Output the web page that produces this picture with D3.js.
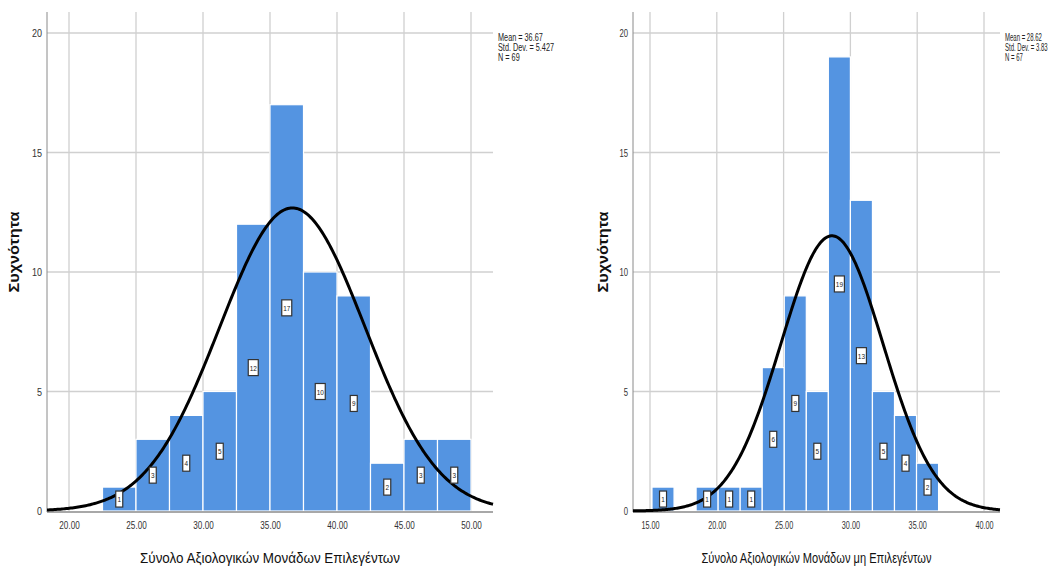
<!DOCTYPE html>
<html><head><meta charset="utf-8">
<script src="https://cdn.jsdelivr.net/npm/d3@7"></script>
<style>
body{margin:0;background:#fff;}
svg{display:block;}
text{font-family:"Liberation Sans",Arial,sans-serif;}
</style></head>
<body>
<svg id="c" width="1059" height="570"></svg>
<script>
// ---- data ----
const yTicks = [0, 5, 10, 15, 20];
const yTitle = "Συχνότητα";

const leftCounts = [1, 3, 4, 5, 12, 17, 10, 9, 2, 3, 3];
const leftBinStart = 22.5;
const leftBinWidth = 2.5;
const leftXTicks = [20, 25, 30, 35, 40, 45, 50];
const leftStats = {mean: 36.67, sd: 5.427, n: 69};
const leftTitle = "Σύνολο Αξιολογικών Μονάδων Επιλεγέντων";

const rightCounts = [1, 0, 1, 1, 1, 6, 9, 5, 19, 13, 5, 4, 2];
const rightBinStart = 15.15;
const rightBinWidth = 1.65;
const rightXTicks = [15, 20, 25, 30, 35, 40];
const rightStats = {mean: 28.62, sd: 3.83, n: 67};
const rightTitle = "Σύνολο Αξιολογικών Μονάδων μη Επιλεγέντων";

const svg = d3.select("#c");
const BLUE = "#5494e1";
const GRID = "#d0d0d0";

// horizontally condense text to mimic a narrow font
function condense(sel, f) {
  sel.each(function () {
    const L = this.getComputedTextLength();
    if (L > 0) {
      this.setAttribute("textLength", (L * f).toFixed(2));
      this.setAttribute("lengthAdjust", "spacingAndGlyphs");
    }
  });
}

function drawChart(cfg) {
  const g = svg.append("g");
  const x = d3.scaleLinear().domain(cfg.xDomain).range([cfg.left, cfg.right]);
  const y = d3.scaleLinear().domain([0, 20]).range([511, 33]);
  const top = 12;

  // gridlines
  g.selectAll(".hg").data(yTicks.filter(d => d > 0)).join("line")
    .attr("x1", cfg.left).attr("x2", cfg.right)
    .attr("y1", d => y(d)).attr("y2", d => y(d))
    .attr("stroke", GRID).attr("stroke-width", 1.3);
  g.selectAll(".vg").data(cfg.xTicks).join("line")
    .attr("x1", d => x(d)).attr("x2", d => x(d))
    .attr("y1", top).attr("y2", 511)
    .attr("stroke", GRID).attr("stroke-width", 1.3);

  // bars
  const bins = cfg.counts.map((c, i) => ({c, x0: cfg.binStart + i * cfg.binWidth, x1: cfg.binStart + (i + 1) * cfg.binWidth}))
    .filter(b => b.c > 0);
  g.selectAll(".bar").data(bins).join("rect")
    .attr("x", d => x(d.x0)).attr("width", d => x(d.x1) - x(d.x0))
    .attr("y", d => y(d.c)).attr("height", d => y(0) - y(d.c))
    .attr("fill", BLUE).attr("stroke", "#fff").attr("stroke-width", 1.2);

  // axes lines
  g.append("line").attr("x1", cfg.left).attr("x2", cfg.left).attr("y1", top).attr("y2", 512)
    .attr("stroke", "#8a8a8a").attr("stroke-width", 1);
  g.append("line").attr("x1", cfg.left).attr("x2", cfg.right).attr("y1", 512).attr("y2", 512)
    .attr("stroke", "#a8a8a8").attr("stroke-width", 2.2);

  // normal curve
  const {mean, sd, n} = cfg.stats;
  const k = n * cfg.binWidth / (sd * Math.sqrt(2 * Math.PI));
  const pts = d3.range(0, 301).map(i => {
    const v = cfg.xDomain[0] + (cfg.xDomain[1] - cfg.xDomain[0]) * i / 300;
    return [v, k * Math.exp(-0.5 * ((v - mean) / sd) ** 2)];
  });
  g.append("path").datum(pts)
    .attr("d", d3.line().x(d => x(d[0])).y(d => y(d[1])))
    .attr("fill", "none").attr("stroke", "#000").attr("stroke-width", 3);

  // labels
  const lab = g.selectAll(".lab").data(bins).join("g")
    .attr("transform", d => `translate(${x((d.x0 + d.x1) / 2)},${y(d.c / 2)})`);
  lab.append("rect")
    .attr("x", d => String(d.c).length > 1 ? -5 : -3.5)
    .attr("width", d => String(d.c).length > 1 ? 10 : 7)
    .attr("y", -8).attr("height", 16)
    .attr("fill", "#fff").attr("stroke", "#333").attr("stroke-width", 1.2);
  lab.append("text")
    .attr("text-anchor", "middle").attr("y", 3)
    .attr("font-size", 8).attr("fill", "#222")
    .text(d => d.c).call(condense, 0.8);

  // y tick labels
  g.selectAll(".yt").data(yTicks).join("text")
    .attr("x", cfg.left - 5).attr("y", d => y(d) + 4)
    .attr("text-anchor", "end").attr("font-size", 11).attr("fill", "#333")
    .text(d => d).call(condense, cfg.nf);
  // x tick labels
  const xa = d3.axisBottom(x).tickValues(cfg.xTicks).tickSize(0).tickFormat(d3.format(".2f"));
  const ax = g.append("g").attr("transform", "translate(0,518)").call(xa);
  ax.select(".domain").remove();
  ax.selectAll("text").attr("font-size", 11).attr("fill", "#333")
    .call(condense, cfg.tf);
  ax.attr("font-family", null);

  // titles
  g.append("text")
    .attr("x", (cfg.left + cfg.right) / 2).attr("y", 563)
    .attr("text-anchor", "middle").attr("font-size", 15.5).attr("fill", "#111")
    .attr("textLength", cfg.titleLen).attr("lengthAdjust", "spacingAndGlyphs")
    .text(cfg.title);
  g.append("text")
    .attr("transform", `translate(${cfg.ytx},252) rotate(-90)`)
    .attr("text-anchor", "middle")
    .attr("font-weight", "bold").attr("font-size", 15).attr("fill", "#111")
    .attr("textLength", 81).attr("lengthAdjust", "spacingAndGlyphs")
    .text(yTitle);

  // stats (condensed via a horizontal scale transform)
  const st = [`Mean = ${cfg.statsText[0]}`, `Std. Dev. = ${cfg.statsText[1]}`, `N = ${cfg.statsText[2]}`];
  const sg = g.append("g").attr("transform", `translate(${cfg.right + 5},0) scale(${cfg.sf},1)`);
  sg.selectAll(".st").data(st).join("text")
    .attr("x", 0).attr("y", (d, i) => 41 + i * 10)
    .attr("font-size", 10).attr("fill", "#222")
    .text(d => d);
}

drawChart({
  left: 47, right: 493, xDomain: [20 - 22 / 13.4, 50 + 22 / 13.4],
  xTicks: leftXTicks, counts: leftCounts, binStart: leftBinStart, binWidth: leftBinWidth,
  stats: leftStats, statsText: ["36.67", "5.427", "69"], title: leftTitle, titleLen: 260, ytx: 19,
  nf: 0.82, tf: 0.74, sf: 0.73
});
drawChart({
  left: 633, right: 1000, xDomain: [15 - 17 / 13.36, 40 + 16 / 13.36],
  xTicks: rightXTicks, counts: rightCounts, binStart: rightBinStart, binWidth: rightBinWidth,
  stats: rightStats, statsText: ["28.62", "3.83", "67"], title: rightTitle, titleLen: 230, ytx: 608,
  nf: 0.7, tf: 0.66, sf: 0.6
});
</script>
</body></html>
